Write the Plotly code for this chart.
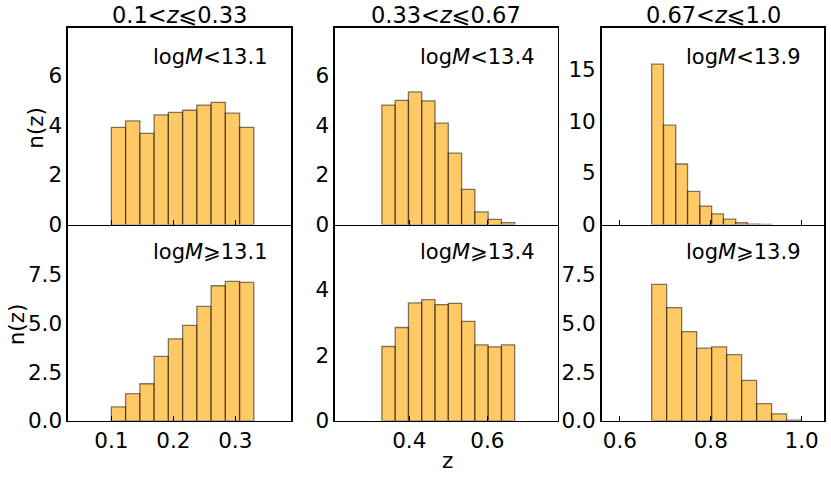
import plotly.graph_objects as go

# ---- data ----
titles = ["0.1<<i>z</i>⩽0.33", "0.33<<i>z</i>⩽0.67", "0.67<<i>z</i>⩽1.0"]
labels_low = ["log<i>M</i><13.1", "log<i>M</i><13.4", "log<i>M</i><13.9"]
labels_high = ["log<i>M</i>⩾13.1", "log<i>M</i>⩾13.4", "log<i>M</i>⩾13.9"]

edges_1 = [0.10, 0.123, 0.146, 0.169, 0.192, 0.215, 0.238, 0.261, 0.284, 0.307, 0.33]
edges_2 = [0.33, 0.364, 0.398, 0.432, 0.466, 0.50, 0.534, 0.568, 0.602, 0.636, 0.67]
edges_3_low = [0.67, 0.696, 0.723, 0.749, 0.776, 0.802, 0.828, 0.855, 0.881, 0.908, 0.934]
edges_3_high = [0.67, 0.703, 0.736, 0.769, 0.802, 0.835, 0.868, 0.901, 0.934, 0.967, 1.0]

n_low_1 = [3.92, 4.18, 3.68, 4.42, 4.52, 4.61, 4.82, 4.93, 4.49, 3.92]
n_low_2 = [4.82, 5.01, 5.35, 4.99, 4.09, 2.88, 1.42, 0.51, 0.21, 0.08]
n_low_3 = [15.5, 9.6, 5.85, 3.2, 1.78, 1.03, 0.52, 0.17, 0.03, 0.01]
n_high_1 = [0.71, 1.39, 1.90, 3.30, 4.20, 4.89, 5.86, 6.92, 7.14, 7.09]
n_high_2 = [2.27, 2.85, 3.60, 3.70, 3.55, 3.59, 3.04, 2.32, 2.26, 2.32]
n_high_3 = [6.99, 5.80, 4.57, 3.72, 3.79, 3.39, 2.07, 0.88, 0.36, 0.03]

x_ranges = [[0.03, 0.39], [0.21, 0.78], [0.56, 1.05]]
x_ticks = [[0.1, 0.2, 0.3], [0.4, 0.6], [0.6, 0.8, 1.0]]
x_ticktext = [["0.1", "0.2", "0.3"], ["0.4", "0.6"], ["0.6", "0.8", "1.0"]]
y_ranges_low = [[0, 7.93], [0, 7.93], [0, 19.0]]
y_ticks_low = [[0, 2, 4, 6], [0, 2, 4, 6], [0, 5, 10, 15]]
y_ranges_high = [[0, 9.98], [0, 5.95], [0, 9.98]]
y_ticks_high = [[0, 2.5, 5, 7.5], [0, 2, 4], [0, 2.5, 5, 7.5]]
y_ticktext_high = [["0.0", "2.5", "5.0", "7.5"], ["0", "2", "4"], ["0.0", "2.5", "5.0", "7.5"]]

# ---- layout geometry (target pixel coords, y stretched to figure height) ----
W, H0 = 831, 477
H = 489
SY = H / H0
x_px = [(68, 291), (335, 557.7), (601.7, 824.3)]
y_top_px = (28, 225)
y_bot_px = (226.5, 421.7)

def xd(a, b):
    return [a / W, b / W]

def py(v):
    return (H - v * SY) / H

def yd(t, b):
    return [py(b), py(t)]

FONT = "DejaVu Sans"
TICK = 21.5
TITLE = 22.5
LAB = 21
fill = "rgba(255,165,0,0.6)"
edge = "rgba(0,0,0,0.5)"

fig = go.Figure()
layout = dict(width=W, height=H, margin=dict(l=0, r=0, t=0, b=0),
              plot_bgcolor="white", paper_bgcolor="white", showlegend=False,
              font=dict(family=FONT, size=LAB, color="black"), bargap=0)

edges_low = [edges_1, edges_2, edges_3_low]
edges_high = [edges_1, edges_2, edges_3_high]
vals_low = [n_low_1, n_low_2, n_low_3]
vals_high = [n_high_1, n_high_2, n_high_3]

annotations = []
for col in range(3):
    for row in range(2):
        idx = row * 3 + col + 1
        xa = "x" if idx == 1 else f"x{idx}"
        ya = "y" if idx == 1 else f"y{idx}"
        eds = edges_low[col] if row == 0 else edges_high[col]
        vals = vals_low[col] if row == 0 else vals_high[col]
        lefts = eds[:-1]
        widths = [eds[i + 1] - eds[i] for i in range(len(eds) - 1)]
        fig.add_trace(go.Bar(x=lefts, y=vals, width=widths, offset=0,
                             marker=dict(color=fill, line=dict(color=edge, width=1.3)),
                             xaxis=xa, yaxis=ya, hoverinfo="skip"))
        xkey = "xaxis" if idx == 1 else f"xaxis{idx}"
        ykey = "yaxis" if idx == 1 else f"yaxis{idx}"
        layout[xkey] = dict(domain=xd(*x_px[col]), range=x_ranges[col], anchor=ya,
                            tickvals=x_ticks[col], ticktext=x_ticktext[col],
                            showticklabels=(row == 1), ticks="inside", ticklen=5,
                            tickwidth=1.2, tickcolor="black",
                            showline=True, linecolor="black", linewidth=1.6,
                            mirror=(row == 0),
                            showgrid=False, zeroline=False, tickfont=dict(size=TICK))
        if row == 0:
            layout[ykey] = dict(domain=yd(*y_top_px), range=y_ranges_low[col], anchor=xa,
                                tickvals=y_ticks_low[col], ticks="",
                                showline=True, linecolor="black", linewidth=1.6, mirror=True,
                                showgrid=False, zeroline=False, tickfont=dict(size=TICK))
        else:
            layout[ykey] = dict(domain=yd(*y_bot_px), range=y_ranges_high[col], anchor=xa,
                                tickvals=y_ticks_high[col], ticktext=y_ticktext_high[col],
                                ticks="",
                                showline=True, linecolor="black", linewidth=1.6, mirror=True,
                                showgrid=False, zeroline=False, tickfont=dict(size=TICK))
    xc = (x_px[col][0] + x_px[col][1]) / 2 / W
    annotations.append(dict(text=titles[col], x=xc, y=py(15), xref="paper", yref="paper",
                            xanchor="center", yanchor="middle", showarrow=False,
                            font=dict(size=TITLE)))
    xr = (x_px[col][1] - 21) / W
    annotations.append(dict(text=labels_low[col], x=xr, y=py(57), xref="paper", yref="paper",
                            xanchor="right", yanchor="middle", showarrow=False, font=dict(size=LAB)))
    annotations.append(dict(text=labels_high[col], x=xr, y=py(253), xref="paper", yref="paper",
                            xanchor="right", yanchor="middle", showarrow=False, font=dict(size=LAB)))

annotations.append(dict(text="n(z)", x=36 / W, y=py(128), xref="paper", yref="paper",
                        textangle=-90, xanchor="center", yanchor="middle", showarrow=False,
                        font=dict(size=TICK)))
annotations.append(dict(text="n(z)", x=16 / W, y=py(325), xref="paper", yref="paper",
                        textangle=-90, xanchor="center", yanchor="middle", showarrow=False,
                        font=dict(size=TICK)))
annotations.append(dict(text="z", x=447 / W, y=py(461), xref="paper", yref="paper",
                        xanchor="center", yanchor="middle", showarrow=False, font=dict(size=TICK)))

layout["annotations"] = annotations
fig.update_layout(**layout)
fig.write_html("out.html", config={"displayModeBar": False, "staticPlot": True},
               post_script=("document.documentElement.style.margin='0px';"
                            "document.documentElement.style.overflow='hidden';"
                            "document.body.style.margin='0px';"
                            "document.body.style.padding='0px';"
                            "document.body.style.overflow='hidden';"))
